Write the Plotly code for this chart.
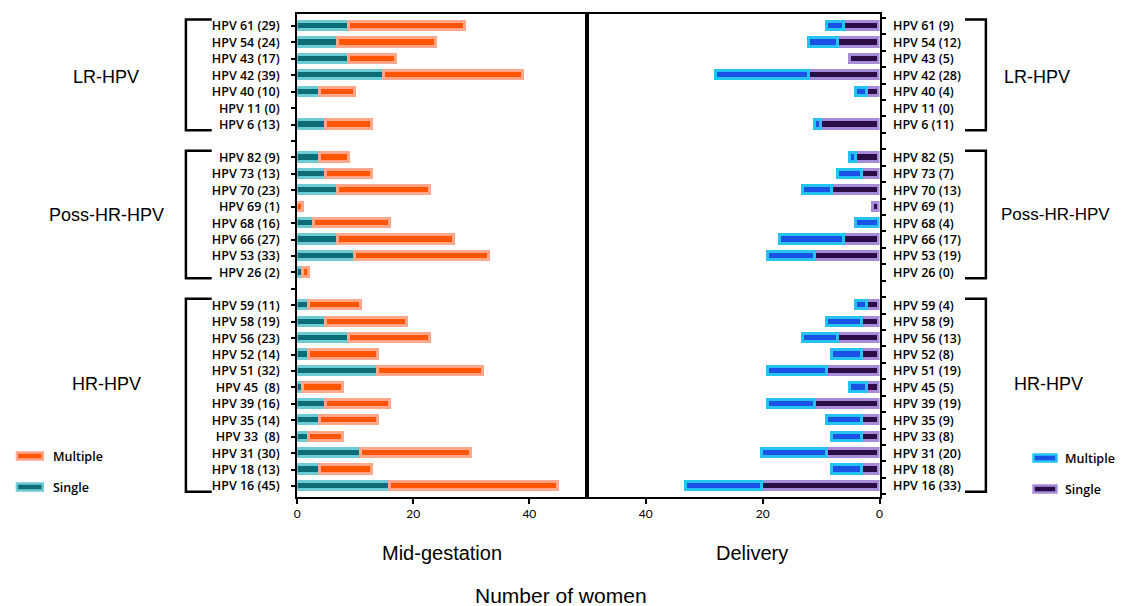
import plotly.graph_objects as go

# ---------------- data ----------------
group_names = ["LR-HPV", "Poss-HR-HPV", "HR-HPV"]
group_sizes = [7, 8, 12]
hpv_types = [
    "HPV 61", "HPV 54", "HPV 43", "HPV 42", "HPV 40", "HPV 11", "HPV 6",
    "HPV 82", "HPV 73", "HPV 70", "HPV 69", "HPV 68", "HPV 66", "HPV 53", "HPV 26",
    "HPV 59", "HPV 58", "HPV 56", "HPV 52", "HPV 51", "HPV 45", "HPV 39", "HPV 35",
    "HPV 33", "HPV 31", "HPV 18", "HPV 16",
]
# Mid-gestation
mid_single = [9, 7, 9, 15, 4, 0, 5,
              4, 5, 7, 0, 3, 7, 10, 1,
              2, 5, 9, 2, 14, 1, 5, 4, 2, 11, 4, 16]
mid_multiple = [20, 17, 8, 24, 6, 0, 8,
                5, 8, 16, 1, 13, 20, 23, 1,
                9, 14, 14, 12, 18, 7, 11, 10, 6, 19, 9, 29]
# Delivery
del_single = [6, 7, 5, 12, 2, 0, 10,
              4, 3, 8, 1, 0, 6, 11, 0,
              2, 3, 7, 3, 9, 2, 11, 3, 3, 9, 3, 20]
del_multiple = [3, 5, 0, 16, 2, 0, 1,
                1, 4, 5, 0, 4, 11, 8, 0,
                2, 6, 6, 5, 10, 3, 8, 6, 5, 11, 5, 13]
x_ticks_mid = [0, 20, 40]
x_ticks_del = [40, 20, 0]
series_names = ["Single", "Multiple"]

# ---------------- styling ----------------
W, H, BODY_MARGIN = 1123, 606, 8
TEAL_IN, TEAL_OUT = "#0d6c76", "#6ccbd4"
ORANGE_IN, ORANGE_OUT = "#ff5400", "#ffa78a"
BLUE_IN, BLUE_OUT = "#1b52e6", "#25c2f4"
PURPLE_IN, PURPLE_OUT = "#2b0c47", "#a68bd8"
LBL_FONT = dict(family="Open Sans", size=12.5, color="black", weight=600)
TXT_FONT = "Liberation Sans, Arial, sans-serif"


def px_x(px):
    return (px - BODY_MARGIN) / W


def px_y(py):
    return 1 - (py - BODY_MARGIN) / H


# row positions with one empty row between groups
pos = []
group_rows = []
p = 0
for n in group_sizes:
    rows = list(range(p, p + n))
    pos += rows
    group_rows.append(rows)
    p += n + 1
last_row = p - 2
all_rows = list(range(0, last_row + 1))


def nz(vals):
    return [v if v else None for v in vals]


left_labels = {r: f"{t} ({s + m})" for r, t, s, m in zip(pos, hpv_types, mid_single, mid_multiple)}
right_labels = {r: f"{t} ({s + m})" for r, t, s, m in zip(pos, hpv_types, del_single, del_multiple)}
left_labels = {r: (l.replace(" (", "\u00a0 (") if l.endswith(" (8)") and ("45" in l or "33" in l) else l)
               for r, l in left_labels.items()}

BAR_W = 0.5
LINE_W = 3

fig = go.Figure()
fig.add_trace(go.Bar(x=nz(mid_single), y=pos, orientation="h", name=series_names[0],
                     xaxis="x", yaxis="y", width=BAR_W,
                     marker=dict(color=TEAL_IN, line=dict(color=TEAL_OUT, width=LINE_W)),
                     showlegend=False))
fig.add_trace(go.Bar(x=nz(mid_multiple), y=pos, orientation="h", name=series_names[1],
                     xaxis="x", yaxis="y", width=BAR_W,
                     marker=dict(color=ORANGE_IN, line=dict(color=ORANGE_OUT, width=LINE_W)),
                     showlegend=False))
fig.add_trace(go.Bar(x=nz(del_single), y=pos, orientation="h", name=series_names[0],
                     xaxis="x2", yaxis="y2", width=BAR_W,
                     marker=dict(color=PURPLE_IN, line=dict(color=PURPLE_OUT, width=LINE_W)),
                     showlegend=False))
fig.add_trace(go.Bar(x=nz(del_multiple), y=pos, orientation="h", name=series_names[1],
                     xaxis="x2", yaxis="y2", width=BAR_W,
                     marker=dict(color=BLUE_IN, line=dict(color=BLUE_OUT, width=LINE_W)),
                     showlegend=False))

row_px = (486 - 26) / last_row
y_range = [last_row + (497 - 486) / row_px, -(26 - 14) / row_px]
ydom = [px_y(497), px_y(14)]

axis_common = dict(showline=True, linecolor="black", linewidth=2, showgrid=False,
                   zeroline=False, ticks="outside", tickcolor="black", tickwidth=2)

fig.update_layout(
    width=W, height=H, margin=dict(l=0, r=0, t=0, b=0),
    paper_bgcolor="white", plot_bgcolor="white",
    barmode="stack", bargap=0,
    xaxis=dict(domain=[px_x(296), px_x(588)], range=[0, 50], anchor="y",
               tickvals=x_ticks_mid, ticklen=5, mirror=True,
               tickfont=dict(family="Lato", size=12, color="black"), **axis_common),
    xaxis2=dict(domain=[px_x(588), px_x(882)], range=[50, 0], anchor="y2",
                tickvals=x_ticks_del, ticklen=5, mirror=True,
                tickfont=dict(family="Lato", size=12, color="black"), **axis_common),
    yaxis=dict(domain=ydom, range=y_range, anchor="x", mirror=True,
               tickvals=all_rows, ticktext=[left_labels.get(r, "") for r in all_rows],
               ticklen=4, tickfont=LBL_FONT, ticklabelstandoff=9, **axis_common),
    yaxis2=dict(domain=ydom, range=y_range, anchor="x2", side="right", mirror=True,
                tickvals=all_rows, ticktext=[right_labels.get(r, "") for r in all_rows],
                tickfont=LBL_FONT, ticklabelstandoff=9,
                showline=True, linecolor="black", linewidth=2, showgrid=False, zeroline=False,
                ticks="", minor=dict(tickvals=[r + 0.5 for r in range(-1, last_row + 1)],
                                     ticks="outside", ticklen=4, tickcolor="black", tickwidth=2)),
)

shapes = []
annotations = []
# group brackets and labels
label_row_shift = [0.1, 0.0, -0.7]
right_label_x = [1005, 1002, 1015]
right_label_size = [18, 17, 18]
for gi, rows in enumerate(group_rows):
    top, bot = rows[0] - 0.4, rows[-1] + 0.35
    for path in ([(px_x(210), top), (px_x(184), top), (px_x(184), bot), (px_x(210), bot)],
                 [(px_x(968), top), (px_x(989), top), (px_x(989), bot), (px_x(968), bot)]):
        d = "M " + " L ".join(f"{x},{y}" for x, y in path)
        shapes.append(dict(type="path", path=d, xref="paper", yref="y",
                           line=dict(color="black", width=2.5)))
    yc = (rows[0] + rows[-1]) / 2 + label_row_shift[gi]
    annotations.append(dict(text=group_names[gi], x=px_x(104), y=yc, xref="paper", yref="y",
                            showarrow=False, xanchor="center", yanchor="middle",
                            font=dict(family=TXT_FONT, size=18, color="black")))
    annotations.append(dict(text=group_names[gi], x=px_x(right_label_x[gi]), y=yc, xref="paper", yref="y",
                            showarrow=False, xanchor="left", yanchor="middle",
                            font=dict(family=TXT_FONT, size=right_label_size[gi], color="black")))

# titles
annotations += [
    dict(text="Mid-gestation", x=px_x(442), y=px_y(553), xref="paper", yref="paper",
         showarrow=False, xanchor="center", yanchor="middle",
         font=dict(family=TXT_FONT, size=20, color="black")),
    dict(text="Delivery", x=px_x(754), y=px_y(553), xref="paper", yref="paper",
         showarrow=False, xanchor="center", yanchor="middle",
         font=dict(family=TXT_FONT, size=20, color="black")),
    dict(text="Number of women", x=px_x(561), y=px_y(595), xref="paper", yref="paper",
         showarrow=False, xanchor="center", yanchor="middle",
         font=dict(family=TXT_FONT, size=21, color="black")),
]

# manual legends (flat bar swatches)
legend_items = [
    (series_names[1], ORANGE_IN, ORANGE_OUT, 14, 40, 456, 48),
    (series_names[0], TEAL_IN, TEAL_OUT, 14, 40, 487, 48),
    (series_names[1], BLUE_IN, BLUE_OUT, 1037, 1060, 458, 1067),
    (series_names[0], PURPLE_IN, PURPLE_OUT, 1037, 1060, 489, 1067),
]
for name, cin, cout, x0, x1, yc, xt in legend_items:
    shapes.append(dict(type="rect", xref="paper", yref="paper",
                       x0=px_x(x0), x1=px_x(x1), y0=px_y(yc + 3.5), y1=px_y(yc - 3.5),
                       fillcolor=cin, line=dict(color=cout, width=2.5)))
    annotations.append(dict(text=name, x=px_x(xt), y=px_y(yc), xref="paper", yref="paper",
                            showarrow=False, xanchor="left", yanchor="middle",
                            font=dict(family="Open Sans", size=12.5, color="black", weight=600)))

fig.update_layout(shapes=shapes, annotations=annotations)
fig.write_html("out.html")
